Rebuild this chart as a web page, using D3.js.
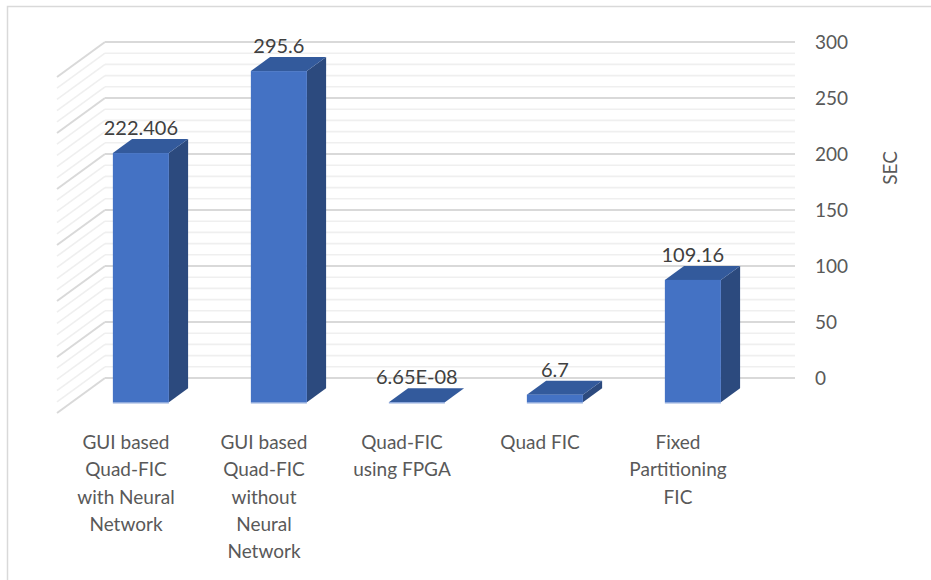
<!DOCTYPE html>
<html>
<head>
<meta charset="utf-8">
<script src="https://cdn.jsdelivr.net/npm/d3@7"></script>
<style>
  body { margin: 0; background: #fff; }
  svg text { font-family: Lato, "Open Sans", sans-serif; }
</style>
</head>
<body>
<div id="chart"></div>
<script>
// data
const categories = [
    "GUI based Quad-FIC with Neural Network",
    "GUI based Quad-FIC without Neural Network",
    "Quad-FIC using FPGA",
    "Quad FIC",
    "Fixed Partitioning FIC"
];
const categoryLines = [
    ["GUI based", "Quad-FIC", "with Neural", "Network"],
    ["GUI based", "Quad-FIC", "without", "Neural", "Network"],
    ["Quad-FIC", "using FPGA"],
    ["Quad FIC"],
    ["Fixed", "Partitioning", "FIC"]
];
const values = [222.406, 295.6, 6.65e-8, 6.7, 109.16];
const valueLabels = ["222.406", "295.6", "6.65E-08", "6.7", "109.16"];
const yTicks = [0, 50, 100, 150, 200, 250, 300];
const yTitle = "SEC";

// set svg dimension
const width = 931, height = 580;

const svg = d3.select("div#chart")
    .append("svg")
    .attr("width", width)
    .attr("height", height);

// chart border
svg.append("rect")
    .attr("x", 7.5).attr("y", 6.5)
    .attr("width", 940).attr("height", 600)
    .attr("fill", "none")
    .attr("stroke", "#d9d9d9")
    .attr("stroke-width", 1.5);

// oblique 3d: depth offset from back wall to front of floor
const DX = 48, DY = 35;
const zFront = 0.69, zBack = 0.29;

const x = d3.scaleBand()
    .domain(categories)
    .range([105, 795])
    .paddingInner(0.594)
    .paddingOuter(0.297);

const y = d3.scaleLinear()
    .domain([0, 300])
    .range([378, 42]);

function proj(px, v, z) {
    return [px - z * DX, y(v) + z * DY];
}

// gridlines (back wall + side wall), minor every 10, major every 50
const grid = y.ticks(30);
const gGrid = svg.append("g");
grid.forEach(v => {
    const major = v % 50 === 0;
    const stroke = major ? "#d9d9d9" : "#efefef";
    gGrid.append("line")
        .attr("x1", 105).attr("x2", 795)
        .attr("y1", y(v)).attr("y2", y(v))
        .attr("stroke", stroke)
        .attr("stroke-width", major ? 2 : 1.6);
    const a = proj(105, v, 0), b = proj(105, v, 1);
    gGrid.append("line")
        .attr("x1", a[0]).attr("y1", a[1])
        .attr("x2", b[0]).attr("y2", b[1])
        .attr("stroke", stroke)
        .attr("stroke-width", major ? 2 : 1.6);
});

// bars
const line = d3.line();
const bw = x.bandwidth();
const gBars = svg.append("g");
categories.forEach((c, i) => {
    const x0 = x(c), x1 = x(c) + bw, v = values[i];
    const g = gBars.append("g");
    // right side
    g.append("path")
        .attr("d", line([proj(x1, 0, zFront), proj(x1, v, zFront), proj(x1, v, zBack), proj(x1, 0, zBack)]) + "Z")
        .attr("fill", "#2c4a7e");
    // top
    g.append("path")
        .attr("d", line([proj(x0, v, zFront), proj(x1, v, zFront), proj(x1, v, zBack), proj(x0, v, zBack)]) + "Z")
        .attr("fill", "#335a9c");
    // front
    const fl = proj(x0, v, zFront), fb = proj(x1, 0, zFront);
    g.append("rect")
        .attr("x", fl[0]).attr("y", fl[1])
        .attr("width", fb[0] - fl[0])
        .attr("height", Math.max(0, fb[1] - fl[1]))
        .attr("fill", "#4472c4");
    g.append("line")
        .attr("x1", fl[0]).attr("x2", fb[0])
        .attr("y1", fb[1] + 0.5).attr("y2", fb[1] + 0.5)
        .attr("stroke", "#8faadc")
        .attr("stroke-width", 1.5);

    // value label
    const top = proj(x0 + bw / 2, v, zBack);
    svg.append("text")
        .attr("x", proj(x0 + bw / 2, v, zFront)[0])
        .attr("y", top[1] - 4)
        .attr("text-anchor", "middle")
        .attr("font-size", 20)
        .attr("fill", "#404040")
        .text(valueLabels[i]);
});

// category labels at floor front
categories.forEach((c, i) => {
    const cx = x(c) + bw / 2 - DX;
    const t = svg.append("text")
        .attr("text-anchor", "middle")
        .attr("font-size", 19)
        .attr("fill", "#595959");
    categoryLines[i].forEach((s, j) => {
        t.append("tspan")
            .attr("x", cx)
            .attr("y", 449 + j * 27.3)
            .text(s);
    });
});

// y axis on the right
svg.append("g")
    .attr("transform", "translate(815,0)")
    .call(d3.axisRight(y).tickValues(yTicks).tickSize(0).tickPadding(0))
    .call(g => g.select(".domain").remove())
    .selectAll("text")
    .attr("font-family", "Lato, sans-serif")
    .attr("font-size", 19)
    .attr("fill", "#595959");

svg.append("text")
    .attr("transform", "translate(897,168) rotate(-90)")
    .attr("text-anchor", "middle")
    .attr("font-size", 19)
    .attr("fill", "#595959")
    .text(yTitle);
</script>
</body>
</html>
